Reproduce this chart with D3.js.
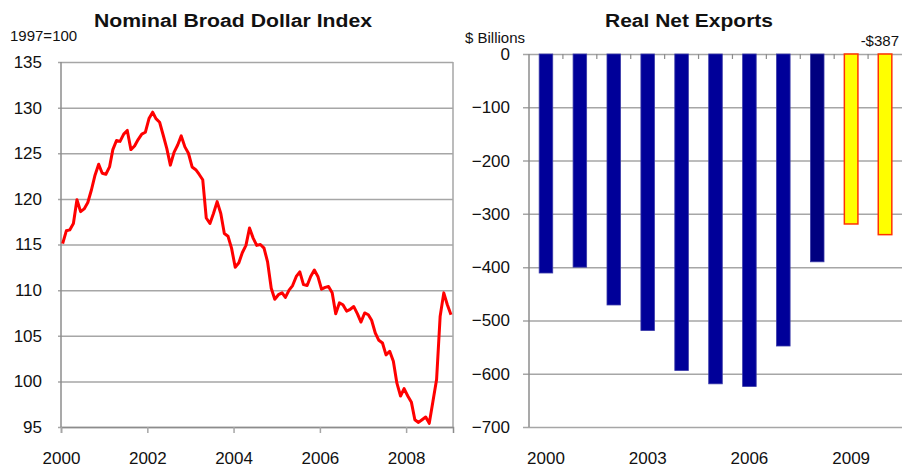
<!DOCTYPE html>
<html>
<head>
<meta charset="utf-8">
<title>Dollar Index and Real Net Exports</title>
<script src="https://d3js.org/d3.v7.min.js"></script>
<style>
  body { margin: 0; background: #fff; }
  svg text { font-family: "Liberation Sans", Arial, sans-serif; fill: #111; }
  .tick line { stroke: #a6a6a6; stroke-width: 1.5; }
  .tick text { font-size: 17px; }
</style>
</head>
<body>
<svg id="svg"></svg>

<script>
// monthly index, Jan 2000 .. Jan 2009 (1997=100)
var dollarIndex = [
  115.1, 116.5, 116.6, 117.3, 119.9, 118.6, 118.9, 119.6, 121.0, 122.6, 123.8, 122.8,
  122.7, 123.5, 125.4, 126.4, 126.3, 127.1, 127.5, 125.4, 125.8, 126.5, 127.1, 127.3,
  128.8, 129.5, 128.8, 128.4, 127.0, 125.5, 123.7, 125.1, 125.9, 126.9, 125.7, 125.0,
  123.5, 123.2, 122.7, 122.1, 117.9, 117.3, 118.4, 119.7, 118.4, 116.2, 115.9, 114.6,
  112.5, 113.0, 114.1, 114.9, 116.8, 115.7, 114.9, 115.0, 114.6, 113.1, 110.2, 109.0,
  109.5, 109.7, 109.2, 110.0, 110.5, 111.5, 112.0, 110.6, 110.5, 111.5, 112.2, 111.5,
  110.1, 110.3, 110.4, 109.7, 107.4, 108.6, 108.4, 107.7, 107.9, 108.2, 107.4, 106.5,
  107.5, 107.3, 106.7, 105.3, 104.5, 104.2, 102.9, 103.3, 102.2, 99.8, 98.4, 99.2,
  98.4, 97.7, 95.8, 95.5, 95.8, 96.1, 95.4, 97.8, 100.2, 107.1, 109.7, 108.4,
  107.3
];
var dollarTicks = [95, 100, 105, 110, 115, 120, 125, 130, 135];
var dollarYears = [2000, 2002, 2004, 2006, 2008];

var exportYears = ["2000", "2001", "2002", "2003", "2004", "2005", "2006", "2007", "2008", "2009", "2010"];
var netExports = [-411, -400, -471, -519, -594, -619, -624, -548, -390, -319, -339];
var forecastYears = ["2009", "2010"];
var exportTicks = [0, -100, -200, -300, -400, -500, -600, -700];
var exportLabels = ["2000", "2003", "2006", "2009"];
var lastLabel = "-$387";

var width = 902, height = 473;

var svg = d3.select("#svg")
    .attr("width", width)
    .attr("height", height);

// ---------- left: Nominal Broad Dollar Index ----------
var L = {left: 61, right: 453, top: 62, bottom: 427};

var xL = d3.scaleTime()
    .domain([new Date(2000, 0, 1), new Date(2009, 1, 1)])
    .range([L.left, L.right]);
var yL = d3.scaleLinear().domain([95, 135]).range([L.bottom, L.top]);

svg.append("g")
    .attr("transform", "translate(" + (L.left - 3) + ",0)")
    .call(d3.axisLeft(yL).tickValues(dollarTicks).tickSize(-(L.right - L.left + 3)).tickPadding(16))
    .call(function(g) { g.select(".domain").remove(); });

// frame
svg.append("line").attr("x1", L.left).attr("x2", L.left).attr("y1", L.top).attr("y2", L.bottom)
    .attr("stroke", "#8c8c8c").attr("stroke-width", 1.5);
svg.append("line").attr("x1", L.right).attr("x2", L.right).attr("y1", L.top).attr("y2", L.bottom)
    .attr("stroke", "#a6a6a6").attr("stroke-width", 1.5);

svg.append("g")
    .attr("transform", "translate(0," + L.bottom + ")")
    .call(d3.axisBottom(xL)
        .tickValues(dollarYears.map(function(y) { return new Date(y, 0, 1); }))
        .tickFormat(d3.timeFormat("%Y"))
        .tickSize(6).tickPadding(19))
    .call(function(g) {
        g.select(".domain").attr("stroke", "#8c8c8c").attr("stroke-width", 1.5);
        g.selectAll(".tick line").attr("stroke", "#8c8c8c");
    });

var line = d3.line()
    .x(function(d, i) { return xL(new Date(2000, i, 15)); })
    .y(function(d) { return yL(d); });

svg.append("path")
    .datum(dollarIndex)
    .attr("d", line)
    .attr("fill", "none")
    .attr("stroke", "#ff0000")
    .attr("stroke-width", 3)
    .attr("stroke-linejoin", "round");

svg.append("text")
    .attr("x", 94).attr("y", 27)
    .attr("textLength", 278).attr("lengthAdjust", "spacingAndGlyphs")
    .style("font-size", "17.5px").style("font-weight", "bold")
    .text("Nominal Broad Dollar Index");

svg.append("text")
    .attr("x", 10).attr("y", 41)
    .style("font-size", "15px")
    .text("1997=100");

// ---------- right: Real Net Exports ----------
var R = {left: 529, right: 902, top: 54, bottom: 427};

var xR = d3.scaleBand().domain(exportYears).range([R.left, R.right]).padding(0);
var yR = d3.scaleLinear().domain([-700, 0]).range([R.bottom, R.top]);

svg.append("g")
    .attr("transform", "translate(" + (R.left - 6) + ",0)")
    .call(d3.axisLeft(yR).tickValues(exportTicks).tickSize(-(R.right - R.left + 6)).tickPadding(13))
    .call(function(g) {
        g.select(".domain").remove();
        g.selectAll(".tick").filter(function(d) { return d === 0 || d === -700; })
            .select("line").attr("stroke", "#8c8c8c");
    });

svg.append("line").attr("x1", R.left).attr("x2", R.left).attr("y1", R.top).attr("y2", R.bottom)
    .attr("stroke", "#8c8c8c").attr("stroke-width", 1.5);

var barW = xR.bandwidth() * 0.4;

svg.append("g").selectAll("rect")
    .data(exportYears)
    .enter().append("rect")
    .attr("x", function(d) { return xR(d) + (xR.bandwidth() - barW) / 2; })
    .attr("y", yR(0))
    .attr("width", barW)
    .attr("height", function(d, i) { return yR(netExports[i]) - yR(0); })
    .attr("fill", function(d) {
        if (forecastYears.indexOf(d) >= 0) return "#ffff00";
        return d === "2008" ? "#000080" : "#000099";
    })
    .attr("stroke", function(d) { return forecastYears.indexOf(d) >= 0 ? "#ff3300" : "#3a3aa8"; })
    .attr("stroke-width", function(d) { return forecastYears.indexOf(d) >= 0 ? 1.5 : 0.8; });

// category ticks along the zero line
svg.append("g").selectAll("line")
    .data(exportYears.slice(1))
    .enter().append("line")
    .attr("x1", function(d) { return xR(d); })
    .attr("x2", function(d) { return xR(d); })
    .attr("y1", yR(0))
    .attr("y2", yR(0) + 5)
    .attr("stroke", "#8c8c8c")
    .attr("stroke-width", 1.2);

svg.append("g")
    .attr("transform", "translate(0," + R.bottom + ")")
    .call(d3.axisBottom(xR).tickValues(exportLabels).tickSize(0).tickPadding(25))
    .call(function(g) { g.select(".domain").remove(); });

svg.append("text")
    .attr("x", 605).attr("y", 27)
    .attr("textLength", 168).attr("lengthAdjust", "spacingAndGlyphs")
    .style("font-size", "17.5px").style("font-weight", "bold")
    .text("Real Net Exports");

svg.append("text")
    .attr("x", 465).attr("y", 43)
    .style("font-size", "15px")
    .text("$ Billions");

svg.append("text")
    .attr("x", 899).attr("y", 46)
    .style("text-anchor", "end")
    .style("font-size", "15px")
    .text(lastLabel);
</script>
</body>
</html>
